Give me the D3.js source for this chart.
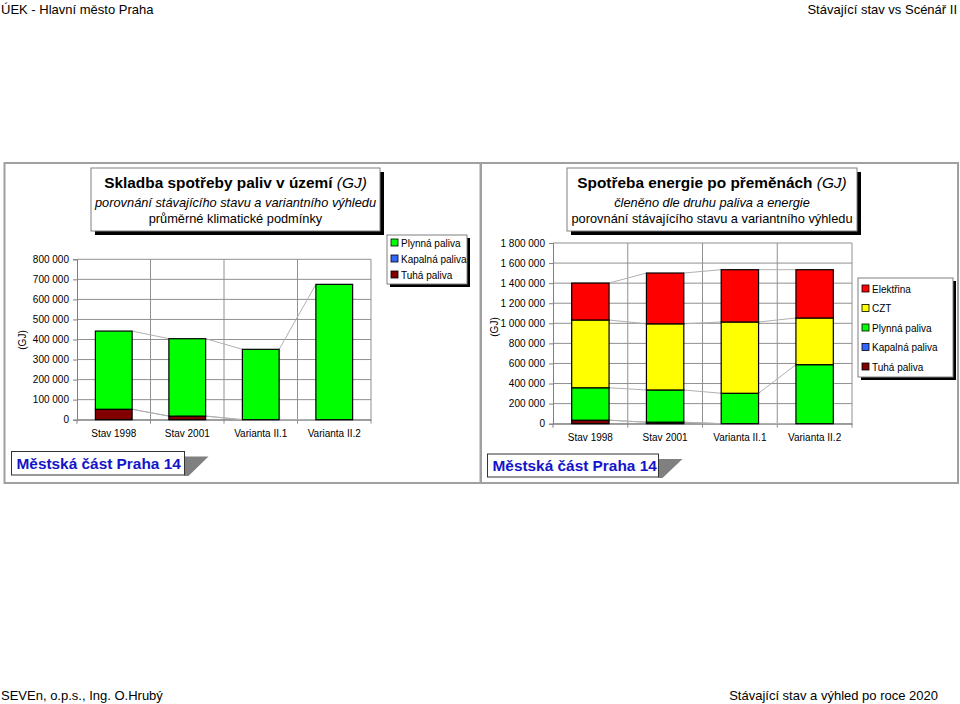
<!DOCTYPE html>
<html><head><meta charset="utf-8">
<script src="https://cdn.jsdelivr.net/npm/d3@7"></script>
<style>
body{margin:0;background:#fff;}
svg{display:block;font-family:"Liberation Sans",Arial,sans-serif;}
</style></head><body>
<svg id="c" width="960" height="704"></svg>
<script>
const categories = ["Stav 1998","Stav 2001","Varianta II.1","Varianta II.2"];
// left chart: Skladba spotřeby paliv v území (GJ)
const leftTuha    = [52000, 18000, 0, 0];
const leftKapalna = [0, 0, 0, 0];
const leftPlynna  = [390000, 386000, 351000, 675000];
const leftTicks   = [0,100000,200000,300000,400000,500000,600000,700000,800000];
// right chart: Spotřeba energie po přeměnách (GJ)
const rightTuha      = [35000, 15000, 0, 0];
const rightKapalna   = [0, 0, 0, 0];
const rightPlynna    = [323000, 321000, 303000, 588000];
const rightCZT       = [675000, 659000, 710000, 465000];
const rightElektrina = [368000, 506000, 521000, 481000];
const rightTicks     = [0,200000,400000,600000,800000,1000000,1200000,1400000,1600000,1800000];

const seriesNames = {tuha:"Tuhá paliva", kap:"Kapalná paliva", plyn:"Plynná paliva", czt:"CZT", el:"Elektřina"};
const colors = {tuha:"#800000", kap:"#3366ff", plyn:"#00ff00", czt:"#ffff00", el:"#ff0000"};

const svg = d3.select("#c");
const fmt = v => d3.format(",")(v).replace(/,/g," ");

// header/footer
svg.append("text").attr("x",1).attr("y",14).attr("font-size",13).text("ÚEK - Hlavní město Praha");
svg.append("text").attr("x",957).attr("y",14).attr("text-anchor","end").attr("font-size",13).text("Stávající stav vs Scénář II");
svg.append("text").attr("x",1).attr("y",700).attr("font-size",13).text("SEVEn, o.p.s., Ing. O.Hrubý");
svg.append("text").attr("x",938).attr("y",700).attr("text-anchor","end").attr("font-size",13).text("Stávající stav a výhled po roce 2020");

// panels
svg.append("rect").attr("x",4.5).attr("y",163).attr("width",476).attr("height",320).attr("fill","none").attr("stroke","#a0a0a0").attr("stroke-width",2);
svg.append("rect").attr("x",481).attr("y",163).attr("width",477).attr("height",320).attr("fill","none").attr("stroke","#a0a0a0").attr("stroke-width",2);

function shadowBox(x,y,w,h,off){
  svg.append("rect").attr("x",x+off).attr("y",y+off).attr("width",w).attr("height",h).attr("fill","#000");
  svg.append("rect").attr("x",x).attr("y",y).attr("width",w).attr("height",h).attr("fill","#fff").attr("stroke","#808080").attr("stroke-width",1);
}

function titleBox(x,y,w,h,l1,l2,l3){
  shadowBox(x,y,w,h,4);
  const cx = x+w/2;
  const t = svg.append("text").attr("x",cx).attr("y",y+20).attr("text-anchor","middle").attr("font-size",15.4);
  t.append("tspan").attr("font-weight","bold").text(l1);
  t.append("tspan").attr("font-style","italic").text(" (GJ)");
  svg.append("text").attr("x",cx).attr("y",y+38.5).attr("text-anchor","middle").attr("font-size",12.8).attr("font-style","italic").text(l2);
  svg.append("text").attr("x",cx).attr("y",y+55).attr("text-anchor","middle").attr("font-size",12.8).text(l3);
}

function labelBox(x,y,w,h){
  svg.append("path").attr("d",`M${x+w},${y+5} L${x+w+24},${y+5} L${x+w+4},${y+h+1} L${x+w},${y+h+1} Z`).attr("fill","#808080");
  svg.append("rect").attr("x",x).attr("y",y).attr("width",w).attr("height",h).attr("fill","#fff").attr("stroke","#333").attr("stroke-width",1);
  svg.append("text").attr("x",x+5).attr("y",y+h/2+5.5).attr("font-size",15.4).attr("font-weight","bold").attr("fill","#1414c8").text("Městská část Praha 14");
}

function legend(x,y,w,h,keys,ys){
  shadowBox(x,y,w,h,3);
  keys.forEach((k,i)=>{
    svg.append("rect").attr("x",x+4).attr("y",ys[i]-4).attr("width",7).attr("height",7).attr("fill",colors[k]).attr("stroke","#000").attr("stroke-width",0.8);
    svg.append("text").attr("x",x+14).attr("y",ys[i]+3.5).attr("font-size",10).text(seriesNames[k]);
  });
}

function chart(opt){
  const x = d3.scaleBand().domain(categories).range([opt.x0,opt.x1]).paddingInner(0).paddingOuter(0);
  const y = d3.scaleLinear().domain([0,opt.max]).range([opt.y0,opt.y1]);
  const g = svg.append("g");
  g.selectAll(".hg").data(opt.ticks).enter().append("line")
    .attr("x1",opt.x0).attr("x2",opt.x1).attr("y1",d=>y(d)).attr("y2",d=>y(d))
    .attr("stroke","#909090").attr("stroke-width",1);
  const bounds = categories.map(c=>x(c)).concat([opt.x1]);
  g.selectAll(".vg").data(bounds.slice(1)).enter().append("line")
    .attr("x1",d=>d).attr("x2",d=>d).attr("y1",y(opt.max)).attr("y2",y(0)+4)
    .attr("stroke","#909090").attr("stroke-width",1);
  const ya = d3.axisLeft(y).tickValues(opt.ticks).tickFormat(fmt).tickSize(4).tickPadding(4);
  const yg = g.append("g").attr("transform",`translate(${opt.x0},0)`).call(ya);
  yg.selectAll("text").attr("font-size",10).attr("font-family","Liberation Sans, Arial, sans-serif").attr("fill","#000");
  yg.selectAll("line,path").attr("stroke","#808080");
  const xa = d3.axisBottom(x).tickSize(0).tickPadding(opt.xpad);
  const xg = g.append("g").attr("transform",`translate(0,${y(0)})`).call(xa);
  xg.select("path").attr("stroke","#808080");
  xg.selectAll("text").attr("font-size",10).attr("font-family","Liberation Sans, Arial, sans-serif").attr("fill","#000");
  g.append("line").attr("x1",opt.x0).attr("x2",opt.x0).attr("y1",y(0)).attr("y2",y(0)+4).attr("stroke","#808080");
  const rows = categories.map((c,i)=>{ const r={cat:c}; opt.keys.forEach(k=>r[k]=opt.data[k][i]); return r;});
  const stack = d3.stack().keys(opt.keys)(rows);
  const bw = x.bandwidth()/2;
  const bx = c => x(c)+x.bandwidth()/4;
  stack.forEach(s=>{
    for(let i=0;i<s.length-1;i++){
      g.append("line").attr("x1",bx(categories[i])+bw).attr("y1",y(s[i][1]))
        .attr("x2",bx(categories[i+1])).attr("y2",y(s[i+1][1]))
        .attr("stroke","#b0b0b0").attr("stroke-width",1);
    }
  });
  stack.forEach(s=>{
    g.selectAll(null).data(s.filter(d=>d[1]-d[0]>0)).enter().append("rect")
      .attr("x",d=>bx(d.data.cat)).attr("width",bw)
      .attr("y",d=>y(d[1])).attr("height",d=>y(d[0])-y(d[1]))
      .attr("fill",colors[s.key]).attr("stroke","#000").attr("stroke-width",1.2);
  });
  svg.append("text").attr("transform",`translate(${opt.gjx},${opt.gjy}) rotate(-90)`).attr("text-anchor","middle").attr("font-size",10).text("(GJ)");
}

titleBox(91,168,289,63,"Skladba spotřeby paliv v území","porovnání stávajícího stavu a variantního výhledu","průměrné klimatické podmínky");
titleBox(567,168,290,63,"Spotřeba energie po přeměnách","členěno dle druhu paliva a energie","porovnání stávajícího stavu a variantního výhledu");

chart({x0:77,x1:371,y0:419.7,y1:259.3,max:800000,ticks:leftTicks,keys:["tuha","kap","plyn"],
  data:{tuha:leftTuha,kap:leftKapalna,plyn:leftPlynna},gjx:26,gjy:340,xpad:10});
chart({x0:553,x1:852,y0:423.7,y1:243,max:1800000,ticks:rightTicks,keys:["tuha","kap","plyn","czt","el"],
  data:{tuha:rightTuha,kap:rightKapalna,plyn:rightPlynna,czt:rightCZT,el:rightElektrina},gjx:498,gjy:327,xpad:10});

legend(387,235,80,49,["plyn","kap","tuha"],[243,259,275]);
legend(858,278,95,99,["el","czt","plyn","kap","tuha"],[289,308.5,328,347.5,367]);

labelBox(11.5,451.5,173,23.5);
labelBox(487.5,454,171,23);
</script></body></html>
